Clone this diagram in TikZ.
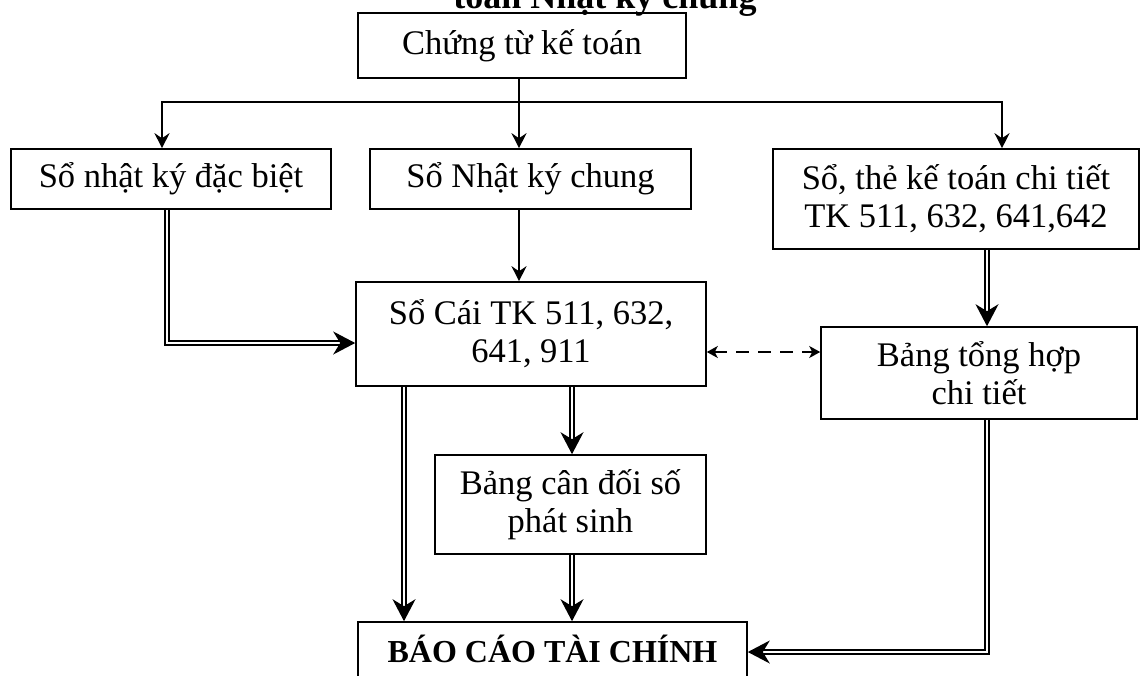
\documentclass[tikz,border=0pt]{standalone}
\usepackage{fontspec}
\setmainfont{Liberation Serif}
\usetikzlibrary{arrows.meta}

\begin{document}
\begin{tikzpicture}[x=1pt,y=-1pt,
  box/.style={draw, line width=1.6pt, rectangle, inner sep=0pt, align=center,
    font=\fontsize{34.5}{38}\selectfont},
  plain/.style={line width=1.8pt},
  single/.style={line width=1.8pt, -{Stealth[length=15pt,width=15pt,inset=5pt]}},
  dbl/.style={line width=1.5pt, double, double distance=2.6pt,
    -{Stealth[length=22pt,width=23pt,inset=7pt]}},
  dashlink/.style={line width=1.8pt, dash pattern=on 13pt off 9pt,
    {Stealth[length=11pt,width=12pt,inset=3pt]}-{Stealth[length=11pt,width=12pt,inset=3pt]}}
]
\clip (0,0) rectangle (1143,675);
\useasboundingbox (0,0) rectangle (1143,675);

% heading (its first line lies above the page)
\node[font=\bfseries\fontsize{36}{40}\selectfont, anchor=base, inner sep=0pt] (title) at (605,8) {toán Nhật ký chung};

% boxes
\node[box, minimum width=328pt, minimum height=65pt] (ct) at (522,45.5) {Chứng từ kế toán};
\node[box, minimum width=320pt, minimum height=60pt] (nkdb) at (171,179) {Sổ nhật ký đặc biệt};
\node[box, minimum width=321pt, minimum height=60pt] (nkc) at (530.5,179) {Sổ Nhật ký chung};
\node[box, minimum width=366pt, minimum height=100pt] (ctiet) at (956,199) {Sổ, thẻ kế toán chi tiết\\TK 511, 632, 641,642};
\node[box, minimum width=350pt, minimum height=104pt] (socai) at (531,334) {Sổ Cái TK 511, 632,\\641, 911};
\node[box, minimum width=316pt, minimum height=92pt] (thop) at (979,373) {Bảng tổng hợp\\chi tiết};
\node[box, minimum width=271pt, minimum height=99pt] (bcd) at (570.5,504.5) {Bảng cân đối số\\phát sinh};
\node[box, font=\bfseries\fontsize{32}{38}\selectfont, minimum width=389pt,
  text height=40pt, text depth=40pt, anchor=base] (bctc) at (552.5,662) {BÁO CÁO TÀI CHÍNH};

% connector routing points
\coordinate (busL) at (162,102);
\coordinate (busM) at (519,102);
\coordinate (busR) at (1002,102);
\coordinate (elbowL) at (167,343);
\coordinate (dashY) at (0,352);
\coordinate (colL) at (404,0);
\coordinate (colM) at (572,0);
\coordinate (colR) at (987,0);
\coordinate (elbowR) at (987,652);

% distribution from the source documents
\draw[single] (ct.south -| busM) -- (busM |- nkc.north);
\draw[single] (busM) -- (busL) -- (busL |- nkdb.north);
\draw[single] (busM) -- (busR) -- (busR |- ctiet.north);

% journals to the ledger
\draw[single] (nkc.south -| busM) -- (busM |- socai.north);
\draw[dbl] (nkdb.south -| elbowL) -- (elbowL) -- (elbowL -| socai.west);

% detail books
\draw[dbl] (ctiet.south -| colR) -- (thop.north -| colR);
\draw[dashlink] (socai.east |- dashY) -- (thop.west |- dashY);

% towards the financial statements
\draw[dbl] (socai.south -| colL) -- (bctc.north -| colL);
\draw[dbl] (socai.south -| colM) -- (bcd.north -| colM);
\draw[dbl] (bcd.south -| colM) -- (bctc.north -| colM);
\draw[dbl] (thop.south -| colR) -- (elbowR) -- (elbowR -| bctc.east);
\end{tikzpicture}
\end{document}
